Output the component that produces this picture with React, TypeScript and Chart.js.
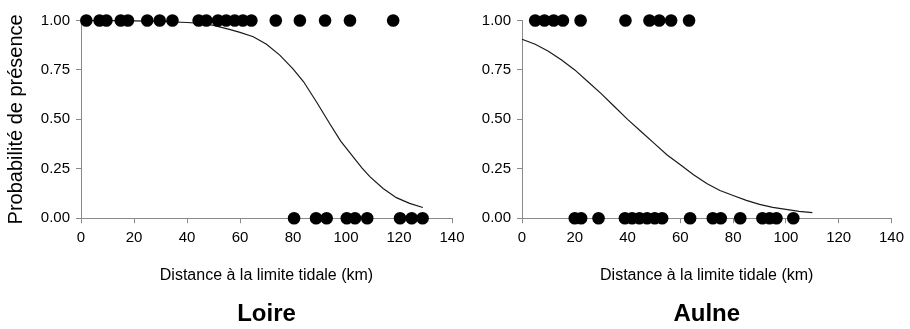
import React, { useEffect, useRef } from "react";
import { Chart, registerables } from "chart.js";

Chart.register(...registerables);

// ---- Data ----
const xTickStep = 20;
const xMin = 0;
const xMax = 140;
const yTickStep = 0.25;

// Loire
const loirePresentX = [2.0, 7.0, 9.6, 15.0, 17.7, 25.0, 29.7, 34.5, 44.4, 47.3, 51.7, 54.8, 58.0, 61.1, 64.3, 73.5, 82.6, 92.1, 101.5, 117.8];
const loireAbsentX = [80.4, 88.7, 92.7, 100.3, 103.4, 108.0, 120.4, 124.8, 128.9];
const loireCurveX = [2, 10, 20, 30, 40, 46, 50, 56, 60, 65, 70, 75, 80, 84, 89, 94, 98, 103, 106, 109, 114, 119, 124, 129];
const loireCurveY = [0.999, 0.999, 0.998, 0.996, 0.99, 0.985, 0.975, 0.955, 0.94, 0.918, 0.88, 0.825, 0.755, 0.69, 0.585, 0.475, 0.39, 0.305, 0.255, 0.21, 0.15, 0.104, 0.075, 0.054];

// Aulne
const aulnePresentX = [5.0, 8.5, 12.0, 15.5, 22.2, 39.2, 48.3, 52.0, 56.5, 63.3];
const aulneAbsentX = [20.0, 22.4, 29.0, 39.0, 41.7, 44.5, 47.4, 50.3, 53.1, 63.7, 72.3, 75.3, 82.7, 91.1, 93.8, 96.4, 102.8];
const aulneCurveX = [0, 5, 10, 15, 20, 25, 30, 35, 40, 45, 50, 55, 60, 65, 70, 75, 80, 85, 90, 95, 100, 105, 110];
const aulneCurveY = [0.905, 0.88, 0.845, 0.8, 0.75, 0.69, 0.63, 0.565, 0.5, 0.44, 0.38, 0.32, 0.27, 0.22, 0.175, 0.14, 0.115, 0.09, 0.07, 0.055, 0.045, 0.035, 0.028];

const yTitle = "Probabilité de présence";
const xTitle = "Distance à la limite tidale (km)";

const FONT = "'Liberation Sans', Arial, Helvetica, sans-serif";
const AXIS_GRAY = "#8a8a8a";

function pts(xs: number[], ys: number[] | number) {
  return xs.map((x, i) => ({ x, y: Array.isArray(ys) ? ys[i] : ys }));
}

function makeConfig(p: {
  title: string;
  presentX: number[];
  absentX: number[];
  curveX: number[];
  curveY: number[];
  padLeft: number;
  padRight: number;
  yWidth: number;
  showYTitle: boolean;
}): any {
  return {
    type: "scatter",
    data: {
      datasets: [
        {
          data: pts(p.curveX, p.curveY),
          showLine: true,
          pointRadius: 0,
          borderColor: "#1a1a1a",
          borderWidth: 1.2,
          tension: 0,
          order: 2,
          clip: false,
        },
        {
          data: pts(p.presentX, 1).concat(pts(p.absentX, 0)),
          pointRadius: 6.3,
          pointBorderWidth: 0,
          pointBackgroundColor: "#000",
          pointBorderColor: "#000",
          order: 1,
          clip: false,
        },
      ],
    },
    options: {
      responsive: false,
      animation: false,
      events: [],
      layout: { padding: { top: 20.5, left: p.padLeft, right: p.padRight, bottom: 0 } },
      plugins: {
        legend: { display: false },
        tooltip: { enabled: false },
        title: {
          display: true,
          text: p.title,
          position: "bottom",
          fullSize: false,
          padding: 0,
          color: "#000",
          font: { family: FONT, size: 24, weight: "bold" },
        },
      },
      scales: {
        x: {
          type: "linear",
          min: xMin,
          max: xMax,
          afterFit: (s: any) => {
            s.height = 82;
          },
          ticks: {
            stepSize: xTickStep,
            padding: 6,
            color: "#000",
            font: { family: FONT, size: 15 },
          },
          grid: { drawOnChartArea: false, drawTicks: true, tickLength: 5, color: AXIS_GRAY },
          border: { display: true, color: AXIS_GRAY, width: 1 },
          title: {
            display: true,
            text: xTitle,
            color: "#000",
            font: { family: FONT, size: 16 },
            padding: { top: 0, bottom: 14.6 },
          },
        },
        y: {
          type: "linear",
          min: 0,
          max: 1,
          afterFit: (s: any) => {
            s.width = p.yWidth;
          },
          ticks: {
            stepSize: yTickStep,
            padding: 6,
            color: "#000",
            font: { family: FONT, size: 15 },
            callback: (v: any) => Number(v).toFixed(2),
          },
          grid: { drawOnChartArea: false, drawTicks: true, tickLength: 5, color: AXIS_GRAY },
          border: { display: true, color: AXIS_GRAY, width: 1 },
          title: {
            display: p.showYTitle,
            text: yTitle,
            color: "#000",
            font: { family: FONT, size: 20 },
            padding: { top: 4, bottom: 0 },
          },
        },
      },
    },
  };
}

export default function App() {
  const leftRef = useRef<HTMLCanvasElement | null>(null);
  const rightRef = useRef<HTMLCanvasElement | null>(null);

  useEffect(() => {
    document.body.style.margin = "0";
    const left = new Chart(
      leftRef.current as HTMLCanvasElement,
      makeConfig({
        title: "Loire",
        presentX: loirePresentX,
        absentX: loireAbsentX,
        curveX: loireCurveX,
        curveY: loireCurveY,
        padLeft: 0,
        padRight: 458,
        yWidth: 81,
        showYTitle: true,
      })
    );
    const right = new Chart(
      rightRef.current as HTMLCanvasElement,
      makeConfig({
        title: "Aulne",
        presentX: aulnePresentX,
        absentX: aulneAbsentX,
        curveX: aulneCurveX,
        curveY: aulneCurveY,
        padLeft: 472,
        padRight: 17,
        yWidth: 50,
        showYTitle: false,
      })
    );
    return () => {
      left.destroy();
      right.destroy();
    };
  }, []);

  return (
    <div style={{ position: "relative", width: 910, height: 329, background: "#fff" }}>
      <canvas ref={leftRef} width={910} height={329} style={{ position: "absolute", left: 0, top: 0 }} />
      <canvas ref={rightRef} width={910} height={329} style={{ position: "absolute", left: 0, top: 0 }} />
    </div>
  );
}
